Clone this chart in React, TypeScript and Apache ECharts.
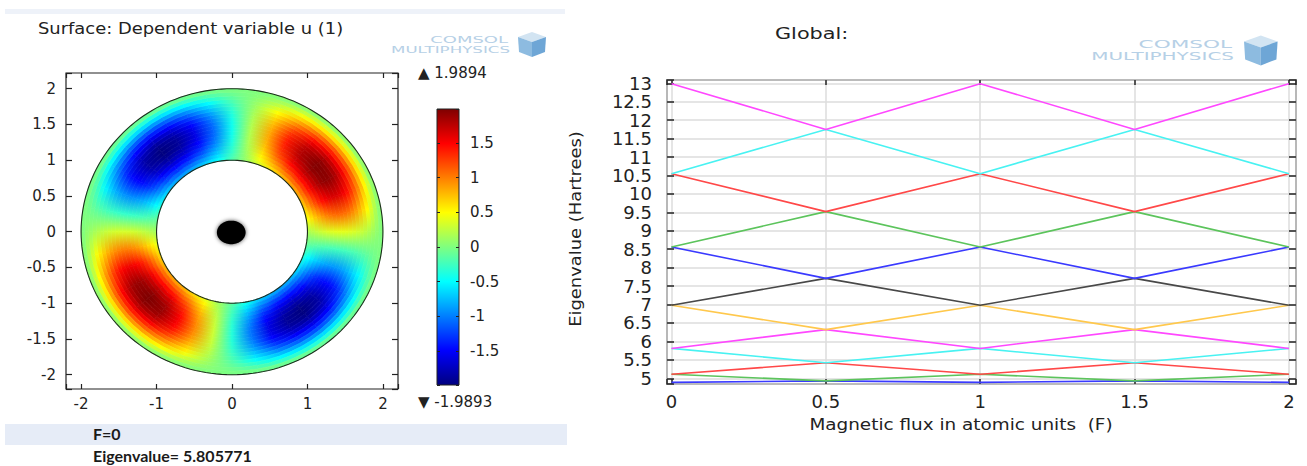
import React, { useEffect, useRef } from 'react';
import * as echarts from 'echarts';

// ---------- Right chart: eigenvalues vs magnetic flux ----------
const FLUX = [0, 0.5, 1, 1.5, 2];
const LEVEL_1 = [4.89, 4.93, 4.89, 4.93, 4.89];
const LEVEL_2 = [5.11, 4.93, 5.11, 4.93, 5.11];
const LEVEL_3 = [5.11, 5.42, 5.11, 5.42, 5.11];
const LEVEL_4 = [5.81, 5.42, 5.81, 5.42, 5.81];
const LEVEL_5 = [5.81, 6.32, 5.81, 6.32, 5.81];
const LEVEL_6 = [6.98, 6.32, 6.98, 6.32, 6.98];
const LEVEL_7 = [6.98, 7.71, 6.98, 7.71, 6.98];
const LEVEL_8 = [8.56, 7.71, 8.56, 7.71, 8.56];
const LEVEL_9 = [8.56, 9.52, 8.56, 9.52, 8.56];
const LEVEL_10 = [10.55, 9.52, 10.55, 9.52, 10.55];
const LEVEL_11 = [10.55, 11.75, 10.55, 11.75, 10.55];
const LEVEL_12 = [12.99, 11.75, 12.99, 11.75, 12.99];
const LEVELS = [LEVEL_1, LEVEL_2, LEVEL_3, LEVEL_4, LEVEL_5, LEVEL_6, LEVEL_7, LEVEL_8, LEVEL_9, LEVEL_10, LEVEL_11, LEVEL_12];
const LEVEL_COLORS = ['#3a3aff', '#5cc45c', '#ff4848', '#48f2f2', '#ff48ff', '#ffc84c', '#484848', '#3a3aff', '#5cc45c', '#ff4848', '#48f2f2', '#ff48ff'];

// ---------- Left chart: surface u on the annulus ----------
const U_MAX = 1.9894;
const U_MIN = -1.9893;
const ANGLE_DEG = [0, 10, 20, 30, 40, 50, 60, 70, 80, 90, 100, 110, 120, 130, 140, 150, 160, 170,
  180, 190, 200, 210, 220, 230, 240, 250, 260, 270, 280, 290, 300, 310, 320, 330, 340, 350];
const ANGULAR_FACTOR = [0.2, 0.55, 0.82, 0.97, 0.99, 0.9, 0.7, 0.42, 0.1, -0.22, -0.55, -0.8, -0.95, -1.0, -0.93, -0.75, -0.47, -0.15,
  0.17, 0.5, 0.78, 0.95, 1.0, 0.95, 0.76, 0.48, 0.15, -0.18, -0.52, -0.8, -0.95, -1.0, -0.93, -0.74, -0.45, -0.12];
const RADIUS_MID = [1.025, 1.075, 1.125, 1.175, 1.225, 1.275, 1.325, 1.375, 1.425, 1.475,
  1.525, 1.575, 1.625, 1.675, 1.725, 1.775, 1.825, 1.875, 1.925, 1.975];
const RADIAL_FACTOR = [0.45, 0.55, 0.65, 0.74, 0.82, 0.89, 0.94, 0.98, 1.0, 1.0,
  0.98, 0.94, 0.88, 0.8, 0.7, 0.59, 0.46, 0.32, 0.18, 0.05];
const INNER_RADIUS = 1;
const OUTER_RADIUS = 2;
const FLUX_TEXT = 'F=0';
const EIGEN_TEXT = 'Eigenvalue= 5.805771';

const JET = ['#00007f', '#0000ff', '#007fff', '#00ffff', '#7fff7f', '#ffff00', '#ff7f00', '#ff0000', '#7f0000'];
const JET_RGB = JET.map((h) => [parseInt(h.slice(1, 3), 16), parseInt(h.slice(3, 5), 16), parseInt(h.slice(5, 7), 16)]);

function colorOf(v: number): string {
  let t = (v - U_MIN) / (U_MAX - U_MIN);
  t = Math.max(0, Math.min(1, t));
  const p = t * (JET_RGB.length - 1);
  const i = Math.min(Math.floor(p), JET_RGB.length - 2);
  const f = p - i;
  const a = JET_RGB[i];
  const b = JET_RGB[i + 1];
  return `rgb(${Math.round(a[0] + (b[0] - a[0]) * f)},${Math.round(a[1] + (b[1] - a[1]) * f)},${Math.round(a[2] + (b[2] - a[2]) * f)})`;
}

const FONT = 'DejaVu Sans';

function multipleOf(v: number, step: number) {
  return Math.abs(v / step - Math.round(v / step)) < 1e-6;
}

function logo(xRight: number, yTop: number, s: number) {
  const c = '#b6d0e6';
  return [
    { type: 'text', x: xRight, y: yTop, scaleX: 2.0, style: { text: 'COMSOL', font: `${9 * s}px "${FONT}"`, fill: c, textAlign: 'right', textVerticalAlign: 'top' } },
    { type: 'text', x: xRight + 2, y: yTop + 10 * s, scaleX: 1.85, style: { text: 'MULTIPHYSICS', font: `${9 * s}px "${FONT}"`, fill: c, textAlign: 'right', textVerticalAlign: 'top' } },
    { type: 'polygon', shape: { points: [[xRight + 10 * s, yTop + 2 * s], [xRight + 24 * s, yTop - 3 * s], [xRight + 38 * s, yTop + 2 * s], [xRight + 24 * s, yTop + 7 * s]] }, style: { fill: '#d2e4f2' } },
    { type: 'polygon', shape: { points: [[xRight + 10 * s, yTop + 2 * s], [xRight + 24 * s, yTop + 7 * s], [xRight + 24 * s, yTop + 22 * s], [xRight + 11 * s, yTop + 17 * s]] }, style: { fill: '#8dbbe0' } },
    { type: 'polygon', shape: { points: [[xRight + 24 * s, yTop + 7 * s], [xRight + 38 * s, yTop + 2 * s], [xRight + 37 * s, yTop + 17 * s], [xRight + 24 * s, yTop + 22 * s]] }, style: { fill: '#6ea6d6' } },
  ];
}

export default function App() {
  const ref = useRef<HTMLDivElement>(null);

  useEffect(() => {
    document.body.style.margin = '0';
    if (!ref.current) return;
    const chart = echarts.init(ref.current, undefined, { renderer: 'svg' });

    const tickLabel = (size: number, step: number, margin: number) => ({
      fontFamily: FONT, fontSize: size, color: '#222', margin,
      formatter: (v: number) => (multipleOf(v, step) ? String(+v.toFixed(3)) : ''),
    });
    const noLine = { show: false, onZero: false };

    const ringSeries = {
      type: 'custom',
      coordinateSystem: 'cartesian2d',
      xAxisIndex: 0,
      yAxisIndex: 0,
      clip: false,
      silent: true,
      data: [[0, 0]],
      renderItem: (_p: any, api: any) => {
        const children: any[] = [];
        const rad = (d: number) => (d * Math.PI) / 180;
        const pt = (r: number, d: number) => api.coord([r * Math.cos(rad(d)), r * Math.sin(rad(d))]);
        const nA = ANGLE_DEG.length;
        for (let j = 0; j < RADIUS_MID.length; j++) {
          const r0 = j === 0 ? INNER_RADIUS : (RADIUS_MID[j - 1] + RADIUS_MID[j]) / 2;
          const r1 = j === RADIUS_MID.length - 1 ? OUTER_RADIUS : (RADIUS_MID[j] + RADIUS_MID[j + 1]) / 2;
          const rm = RADIUS_MID[j];
          for (let i = 0; i < nA; i++) {
            const a0 = ANGLE_DEG[i];
            const a1 = i + 1 < nA ? ANGLE_DEG[i + 1] : 360;
            const v0 = U_MAX * RADIAL_FACTOR[j] * ANGULAR_FACTOR[i];
            const v1 = U_MAX * RADIAL_FACTOR[j] * ANGULAR_FACTOR[(i + 1) % nA];
            const pts: number[][] = [];
            for (let k = 0; k <= 2; k++) pts.push(pt(r0, a0 + ((a1 - a0) * k) / 2));
            for (let k = 2; k >= 0; k--) pts.push(pt(r1, a0 + ((a1 - a0) * k) / 2));
            const p0 = pt(rm, a0);
            const p1 = pt(rm, a1);
            const grad = new echarts.graphic.LinearGradient(p0[0], p0[1], p1[0], p1[1], [
              { offset: 0, color: colorOf(v0) },
              { offset: 1, color: colorOf(v1) },
            ], true);
            children.push({ type: 'polygon', shape: { points: pts }, style: { fill: grad, stroke: grad, lineWidth: 0.7 } });
          }
        }
        const circle = (r: number) => {
          const pts: number[][] = [];
          for (let k = 0; k < 180; k++) pts.push(pt(r, k * 2));
          return { type: 'polygon', shape: { points: pts }, style: { fill: 'none', stroke: '#1d2d1d', lineWidth: 1.1 } };
        };
        children.push(circle(INNER_RADIUS));
        children.push(circle(OUTER_RADIUS));
        const dot: number[][] = [];
        for (let k = 0; k < 72; k++) {
          const a = (k * 5 * Math.PI) / 180;
          dot.push(api.coord([-0.01 + 0.19 * Math.cos(a), 0.165 * Math.sin(a) - 0.01]));
        }
        children.push({ type: 'polygon', shape: { points: dot }, style: { fill: '#000', shadowBlur: 4, shadowColor: 'rgba(0,0,0,0.7)' } });
        return { type: 'group', children };
      },
    };

    const colorbarSeries = {
      type: 'custom',
      coordinateSystem: 'cartesian2d',
      xAxisIndex: 4,
      yAxisIndex: 2,
      clip: false,
      silent: true,
      z: 1,
      data: [[0, 0]],
      renderItem: (_p: any, api: any) => {
        const a = api.coord([0, U_MAX]);
        const b = api.coord([1, U_MIN]);
        const grad = new echarts.graphic.LinearGradient(0, 1, 0, 0, JET.map((c, i) => ({ offset: i / (JET.length - 1), color: c })));
        return { type: 'rect', shape: { x: a[0], y: a[1], width: b[0] - a[0], height: b[1] - a[1] }, style: { fill: grad, stroke: '#222', lineWidth: 1 } };
      },
    };

    const lineSeries = LEVELS.map((lv, idx) => ({
      type: 'line',
      xAxisIndex: 2,
      yAxisIndex: 4,
      data: FLUX.map((f, i) => [f, lv[i]]),
      symbol: 'none',
      silent: true,
      lineStyle: { color: LEVEL_COLORS[idx], width: 1.6 },
      z: 3,
    }));

    const option: any = {
      animation: false,
      backgroundColor: '#ffffff',
      grid: [
        { left: 66, top: 73, width: 332, height: 316, show: true, borderColor: '#222', borderWidth: 1.2, backgroundColor: '#fff' },
        { left: 437, top: 109, width: 22, height: 276, show: false },
        { left: 667, top: 80, width: 629, height: 304, show: true, borderColor: '#222', borderWidth: 1.6, backgroundColor: '#fff' },
      ],
      xAxis: [
        { type: 'value', gridIndex: 0, min: -2.2, max: 2.2, splitNumber: 4, axisLine: noLine, splitLine: { show: false },
          axisTick: { inside: true, length: 5, lineStyle: { color: '#222', width: 1.2 } }, axisLabel: tickLabel(15, 1, 7) },
        { type: 'value', gridIndex: 0, position: 'top', min: -2.2, max: 2.2, splitNumber: 4, axisLine: noLine, splitLine: { show: false },
          axisTick: { inside: true, length: 5, lineStyle: { color: '#222', width: 1.2 } }, axisLabel: { show: false } },
        { type: 'value', gridIndex: 2, min: -0.0146, max: 2.023, splitNumber: 4, axisLine: noLine,
          splitLine: { show: true, lineStyle: { color: '#dcdcdc', width: 1.5 } },
          axisTick: { inside: true, length: 5, lineStyle: { color: '#222', width: 1.5 } }, axisLabel: tickLabel(18, 0.5, 8) },
        { type: 'value', gridIndex: 2, position: 'top', min: -0.0146, max: 2.023, splitNumber: 4, axisLine: noLine, splitLine: { show: false },
          axisTick: { inside: true, length: 5, lineStyle: { color: '#222', width: 1.5 } }, axisLabel: { show: false } },
        { type: 'value', gridIndex: 1, min: 0, max: 1, show: false },
      ],
      yAxis: [
        { type: 'value', gridIndex: 0, min: -2.2, max: 2.22, splitNumber: 9, axisLine: noLine, splitLine: { show: false },
          axisTick: { inside: true, length: 6, lineStyle: { color: '#222', width: 1.2 } }, axisLabel: tickLabel(15, 0.5, 10) },
        { type: 'value', gridIndex: 0, position: 'right', min: -2.2, max: 2.22, splitNumber: 9, axisLine: noLine, splitLine: { show: false },
          axisTick: { inside: true, length: 6, lineStyle: { color: '#222', width: 1.2 } }, axisLabel: { show: false } },
        { type: 'value', gridIndex: 1, position: 'right', min: U_MIN, max: U_MAX, splitNumber: 8, axisLine: noLine, splitLine: { show: false },
          axisTick: { inside: true, length: 3, lineStyle: { color: '#222', width: 1 } }, axisLabel: tickLabel(15, 0.5, 11), z: 5 },
        { type: 'value', gridIndex: 1, position: 'left', min: U_MIN, max: U_MAX, splitNumber: 8, axisLine: noLine, splitLine: { show: false },
          axisTick: { inside: true, length: 3, lineStyle: { color: '#222', width: 1 } }, axisLabel: { show: false }, z: 5 },
        { type: 'value', gridIndex: 2, min: 4.845, max: 13.09, splitNumber: 16, axisLine: noLine,
          splitLine: { show: true, lineStyle: { color: '#dcdcdc', width: 1.5 } },
          axisTick: { inside: true, length: 7, lineStyle: { color: '#222', width: 1.5 } }, axisLabel: tickLabel(18, 0.5, 15) },
        { type: 'value', gridIndex: 2, position: 'right', min: 4.845, max: 13.09, splitNumber: 16, axisLine: noLine, splitLine: { show: false },
          axisTick: { inside: true, length: 7, lineStyle: { color: '#222', width: 1.5 } }, axisLabel: { show: false } },
      ],
      series: [ringSeries, colorbarSeries, ...lineSeries],
      graphic: [
        { type: 'rect', shape: { x: 5, y: 9, width: 560, height: 5 }, style: { fill: '#eef2f9' }, z: -1 },
        { type: 'rect', shape: { x: 5, y: 424, width: 562, height: 21 }, style: { fill: '#e6ecf7' }, z: -1 },
        { type: 'text', x: 38, y: 28, scaleX: 1.12, style: { text: 'Surface: Dependent variable u (1)', font: `16px "${FONT}"`, fill: '#222', textVerticalAlign: 'middle' } },
        { type: 'text', x: 775, y: 33, scaleX: 1.3, style: { text: 'Global:', font: `16px "${FONT}"`, fill: '#222', textVerticalAlign: 'middle' } },
        { type: 'text', x: 418, y: 73, style: { text: '\u25B2 ' + U_MAX.toFixed(4), font: `15px "${FONT}"`, fill: '#222', textVerticalAlign: 'middle' } },
        { type: 'text', x: 418, y: 402, style: { text: '\u25BC ' + U_MIN.toFixed(4), font: `15px "${FONT}"`, fill: '#222', textVerticalAlign: 'middle' } },
        { type: 'text', x: 93, y: 433, style: { text: FLUX_TEXT, font: 'bold 16px "Lato"', fill: '#1a1a1a', textVerticalAlign: 'middle' } },
        { type: 'text', x: 93, y: 455, style: { text: EIGEN_TEXT, font: 'bold 16px "Lato"', fill: '#1a1a1a', textVerticalAlign: 'middle' } },
        { type: 'text', x: 575, y: 229, rotation: Math.PI / 2, scaleX: 1.12, style: { text: 'Eigenvalue (Hartrees)', font: `16px "${FONT}"`, fill: '#222', textAlign: 'center', textVerticalAlign: 'middle' } },
        { type: 'text', x: 961, y: 424, scaleX: 1.15, style: { text: 'Magnetic flux in atomic units  (F)', font: `16px "${FONT}"`, fill: '#222', textAlign: 'center', textVerticalAlign: 'middle' } },
        ...logo(508, 35, 1),
        ...logo(1232, 39, 1.2),
      ],
    };

    chart.setOption(option);
    return () => chart.dispose();
  }, []);

  return <div ref={ref} style={{ position: 'absolute', left: 0, top: 0, width: 1307, height: 466 }} />;
}
